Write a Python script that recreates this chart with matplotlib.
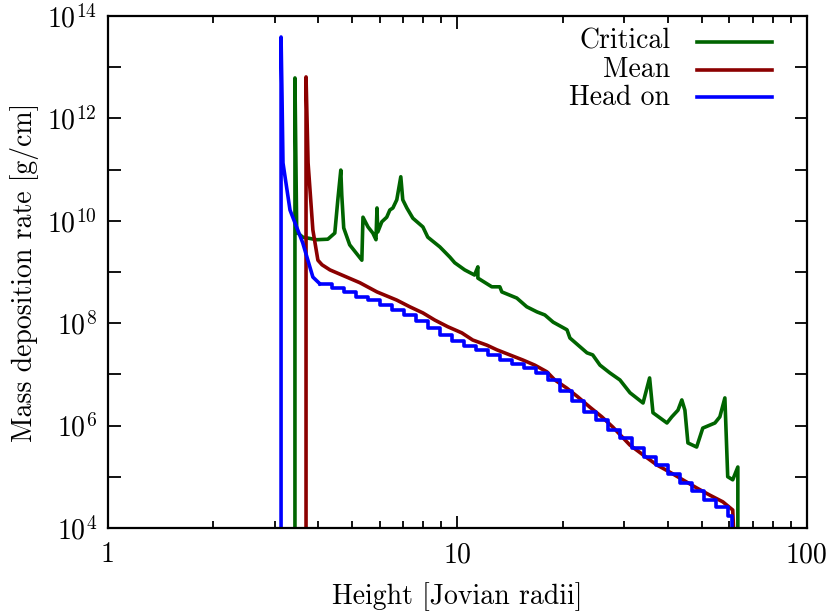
#!/usr/bin/env python
"""Mass deposition rate vs height, log-log."""

import numpy as np
import matplotlib
matplotlib.use('Agg')
import matplotlib.pyplot as plt
from matplotlib.ticker import LogLocator, FuncFormatter, NullFormatter

# Critical (x in Jovian radii, log10 of rate in g/cm)
crit_x = [3.43, 3.43, 3.47, 3.61, 3.96, 4.26, 4.46, 4.55, 4.64, 4.67, 4.73,
          4.92, 5.33, 5.37, 5.55, 5.73, 5.85, 5.89, 5.92, 6.08, 6.28, 6.41,
          6.54, 6.71, 6.89, 6.98, 7.17, 7.46, 7.97, 8.23, 8.91, 9.52, 9.83,
          10.5, 11.2, 11.45, 11.45, 12.55, 13.23, 13.41, 14.8, 15.8, 16.9,
          17.8, 18.8, 20.6, 21.0, 23.5, 24.4, 25.6, 27.3, 29.2, 31.2, 34.0,
          35.5, 36.3, 39.8, 41.1, 42.8, 43.9, 44.8, 45.7, 48.4, 50.4, 54.6,
          56.4, 58.3, 59.4, 61.4, 63.5, 63.5]
crit_logy = [3.0, 12.79, 9.78, 9.68, 9.63, 9.64, 9.76, 10.41, 10.99, 10.50, 9.86,
             9.53, 9.23, 10.07, 9.88, 9.76, 9.63, 10.25, 9.78, 9.98, 10.07, 10.21,
             10.25, 10.41, 10.86, 10.41, 10.25, 10.05, 9.88, 9.68, 9.49, 9.29, 9.18,
             9.04, 8.94, 9.10, 8.88, 8.71, 8.71, 8.61, 8.49, 8.32, 8.22,
             8.16, 8.02, 7.87, 7.71, 7.42, 7.38, 7.18, 7.03, 6.89, 6.64, 6.44,
             6.93, 6.25, 6.05, 6.17, 6.30, 6.50, 6.30, 5.66, 5.58, 5.95, 6.05,
             6.17, 6.54, 5.00, 4.94, 5.19, 3.0]

# Mean
mean_x = [3.69, 3.69, 3.74, 3.86, 3.99, 4.10, 4.32, 5.26, 5.89, 6.71, 7.31,
          7.97, 8.62, 9.39, 10.30, 11.07, 12.15, 12.97, 14.13, 15.40, 16.66,
          18.04, 19.01, 20.58, 22.12, 23.94, 25.91, 27.86, 31.16, 33.95, 37.23,
          40.55, 44.18, 48.45, 52.8, 57.5, 61.4, 62.6]
mean_logy = [3.0, 12.81, 11.13, 9.82, 9.23, 9.14, 9.04, 8.79, 8.61, 8.45, 8.32,
             8.20, 8.06, 7.93, 7.81, 7.67, 7.57, 7.48, 7.38, 7.28, 7.18,
             7.05, 6.89, 6.73, 6.56, 6.36, 6.17, 5.97, 5.62, 5.43, 5.23,
             5.09, 4.94, 4.78, 4.64, 4.51, 4.35, 3.0]

# Head on: steep part, then stepped part
head_x = [3.13, 3.13, 3.15, 3.17, 3.32, 3.61, 3.86, 4.04]
head_logy = [3.0, 13.59, 12.42, 11.13, 10.21, 9.57, 8.90, 8.77]
head_step_x = [4.04, 4.37, 4.73, 5.12, 5.55, 6.00, 6.50, 7.03, 7.61, 8.23,
               8.91, 9.64, 10.44, 11.29, 12.23, 13.23, 14.32, 15.50, 16.77,
               18.15, 19.65, 21.27, 23.01, 24.91, 26.96, 29.17, 31.57, 34.17,
               36.98, 40.03, 43.32, 46.88, 50.74, 54.91, 59.43, 61.0]
head_step_logy = [8.77, 8.69, 8.61, 8.51, 8.45, 8.36, 8.26, 8.16, 8.04, 7.91,
                  7.77, 7.65, 7.55, 7.48, 7.38, 7.28, 7.20, 7.13, 7.03,
                  6.89, 6.68, 6.48, 6.27, 6.11, 5.91, 5.76, 5.56, 5.39,
                  5.23, 5.05, 4.88, 4.72, 4.55, 4.41, 4.23, 3.0]

labels = ['Critical', 'Mean', 'Head on']
colors = ['#006400', '#8b0000', '#0000ff']

plt.rcParams['font.family'] = 'serif'
plt.rcParams['font.serif'] = ['cmr10', 'DejaVu Serif']
plt.rcParams['mathtext.fontset'] = 'cm'
plt.rcParams['axes.formatter.use_mathtext'] = True
plt.rcParams['font.size'] = 20

fig = plt.figure(figsize=(8.3, 6.16), dpi=100)
ax = fig.add_axes([0.130, 0.143, 0.842, 0.831])

lw = 2.6
ax.plot(crit_x, np.power(10.0, crit_logy), color=colors[0], lw=lw)
ax.plot(mean_x, np.power(10.0, mean_logy), color=colors[1], lw=lw)
ax.plot(head_x, np.power(10.0, head_logy), color=colors[2], lw=lw)
ax.plot(head_step_x, np.power(10.0, head_step_logy), color=colors[2], lw=lw,
        drawstyle='steps-post')

ax.set_xscale('log')
ax.set_yscale('log')
ax.set_xlim(1, 100)
ax.set_ylim(1e4, 1e14)

ax.xaxis.set_major_locator(LogLocator(base=10, numticks=10))
ax.xaxis.set_minor_locator(LogLocator(base=10, subs=np.arange(2, 10), numticks=20))
ax.xaxis.set_major_formatter(FuncFormatter(lambda v, p: '%d' % round(v)))
ax.xaxis.set_minor_formatter(NullFormatter())

ax.yaxis.set_major_locator(LogLocator(base=10, subs=(1.0,), numticks=20))
ax.yaxis.set_minor_locator(LogLocator(base=10, subs=(1.0,), numticks=20))
def ylab(v, p):
    e = int(round(np.log10(v)))
    return r'$10^{%d}$' % e if e % 2 == 0 else ''
ax.yaxis.set_major_formatter(FuncFormatter(ylab))
ax.yaxis.set_minor_formatter(NullFormatter())

ax.tick_params(which='both', direction='in', top=True, right=True, width=1.3)
ax.tick_params(which='major', length=9)
ax.tick_params(which='minor', length=5)
ax.tick_params(axis='x', pad=10)
ax.tick_params(axis='y', pad=8)
for s in ax.spines.values():
    s.set_linewidth(1.6)

ax.set_xlabel('Height [Jovian radii]', labelpad=10)
ax.set_ylabel('Mass deposition rate [g/cm]', labelpad=6)

# legend drawn by hand: text right aligned, sample line on the right
rows = [0.950, 0.895, 0.841]
for lab, col, yy in zip(labels, colors, rows):
    ax.text(0.805, yy, lab, transform=ax.transAxes, ha='right', va='center')
    ax.plot([0.843, 0.950], [yy, yy], transform=ax.transAxes, color=col, lw=lw)

fig.savefig('out.png', dpi=100)
